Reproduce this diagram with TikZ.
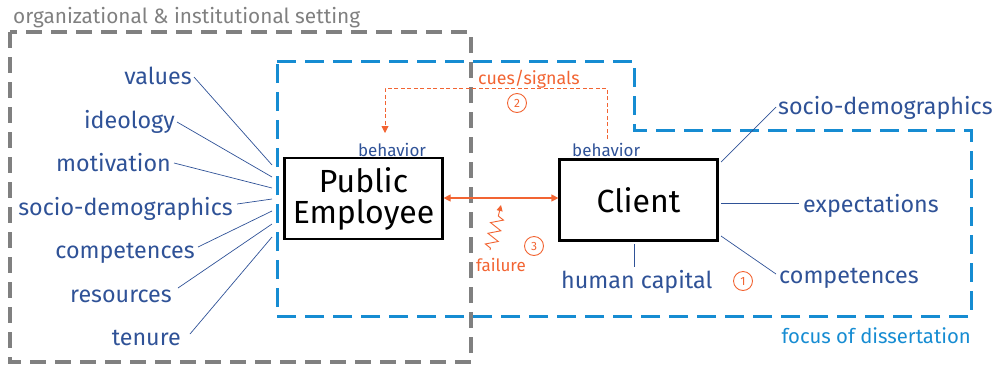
\documentclass[tikz,border=0pt]{standalone}
\usepackage{fontspec}
\setmainfont{Fira Sans}
\usetikzlibrary{decorations.pathmorphing,arrows.meta}
\definecolor{lblue}{RGB}{47,82,151}
\definecolor{fblue}{RGB}{22,140,210}
\definecolor{org}{RGB}{242,100,50}
\definecolor{dgray}{RGB}{128,128,128}
\tikzset{
  lbl/.style={text=lblue,inner sep=0pt,font=\fontsize{23.3}{26}\selectfont},
  small/.style={inner sep=0pt,font=\fontsize{17}{20}\selectfont},
  thin/.style={draw=lblue,line width=0.7pt},
  boxnode/.style={draw=black,line width=2.2pt,minimum width=158pt,minimum height=81pt,inner sep=0pt,align=center,font=\fontsize{32}{36}\selectfont},
  numc/.style={circle,draw=org,text=org,line width=0.9pt,minimum size=19pt,inner sep=0pt,font=\fontsize{12}{12}\selectfont},
}
\begin{document}
\begin{tikzpicture}[x=1pt,y=-1pt]
\useasboundingbox (0,0) rectangle (998,365);
% frames
\draw[dgray,line width=3.3pt,dash pattern=on 16pt off 9pt] (10,32) rectangle (471,362);
\node[anchor=base west,inner sep=0pt,text=dgray,font=\fontsize{20.8}{24}\selectfont] (title) at (13,23) {organizational \& institutional setting};
\draw[fblue,line width=3pt,dash pattern=on 19pt off 9pt] (277,61) -- (634,61) -- (634,130) -- (971,130) -- (971,316) -- (277,316) -- cycle;
\node[anchor=base east,inner sep=0pt,text=fblue,font=\fontsize{20.3}{23}\selectfont] (focus) at (971,343) {focus of dissertation};
% boxes
\node[boxnode] (pe) at (363.5,198.5) {Public\\[-5pt]Employee};
\node[boxnode] (cl) at (638.5,200) {Client};
\node[small,text=lblue,anchor=base] (pbeh) at (392,156) {behavior};
\node[small,text=lblue,anchor=base west] (cbeh) at (572,156) {behavior};
% left labels
\node[lbl,anchor=base east] (l1) at (192,84) {values};
\node[lbl,anchor=base east] (l2) at (175,128) {ideology};
\node[lbl,anchor=base east] (l3) at (171,171) {motivation};
\node[lbl,anchor=base east] (l4) at (233,215) {socio-demographics};
\node[lbl,anchor=base east] (l5) at (195,258) {competences};
\node[lbl,anchor=base east] (l6) at (172,302) {resources};
\node[lbl,anchor=base east] (l7) at (181,345) {tenure};
\coordinate (a1) at (194,77);  \coordinate (b1) at (272,165);
\coordinate (a2) at (177,122); \coordinate (b2) at (272,177);
\coordinate (a3) at (174,163); \coordinate (b3) at (272,188);
\coordinate (a4) at (237,204); \coordinate (b4) at (272,199);
\coordinate (a5) at (198,247); \coordinate (b5) at (272,211);
\coordinate (a6) at (178,288); \coordinate (b6) at (272,224);
\coordinate (a7) at (190,334); \coordinate (b7) at (272,237);
\foreach \i in {1,...,7}{\draw[thin] (a\i) -- (b\i);}
% right labels
\node[lbl,anchor=base west] (r1) at (778,114) {socio-demographics};
\node[lbl,anchor=base west] (r2) at (803,212) {expectations};
\node[lbl,anchor=base west] (r3) at (779,283) {competences};
\node[lbl,anchor=base west] (hc) at (561,288) {human capital};
\coordinate (c1) at (721,162); \coordinate (d1) at (776,107);
\coordinate (c2) at (721,203); \coordinate (d2) at (799,203);
\coordinate (c3) at (721,236); \coordinate (d3) at (776,274);
\coordinate (c4) at (634,244); \coordinate (d4) at (634,267);
\foreach \i in {1,...,4}{\draw[thin] (c\i) -- (d\i);}
% cues / signals
\node[small,text=org,anchor=base west,font=\fontsize{17.8}{20}\selectfont] (cues) at (478,84) {cues/signals};
\coordinate (s1) at (607,139);
\coordinate (s2) at (385,133);
\draw[org,line width=0.9pt,dash pattern=on 4pt off 2.5pt,-{Triangle[length=7pt,width=7pt]}] (s1) -- (607,88) -- (385,88) -- (s2);
\node[numc] (n2) at (517,103) {2};
% interaction
\draw[org,line width=1.2pt,{Triangle[length=7pt,width=7pt]}-{Triangle[length=7pt,width=7pt]}] (pe.east |- 0,198) -- (cl.west |- 0,198);
\coordinate (f0) at (490,250);
\coordinate (f1) at (501,205);
\draw[org,line width=0.9pt,-{Triangle[length=6pt,width=6pt]},decorate,decoration={zigzag,amplitude=6pt,segment length=11pt,pre length=2pt,post length=9pt}] (f0) -- (f1);
\node[small,text=org,anchor=base west] (fail) at (476,271) {failure};
\node[numc] (n3) at (534,246) {3};
\node[numc] (n1) at (743,281) {1};
\end{tikzpicture}
\end{document}
